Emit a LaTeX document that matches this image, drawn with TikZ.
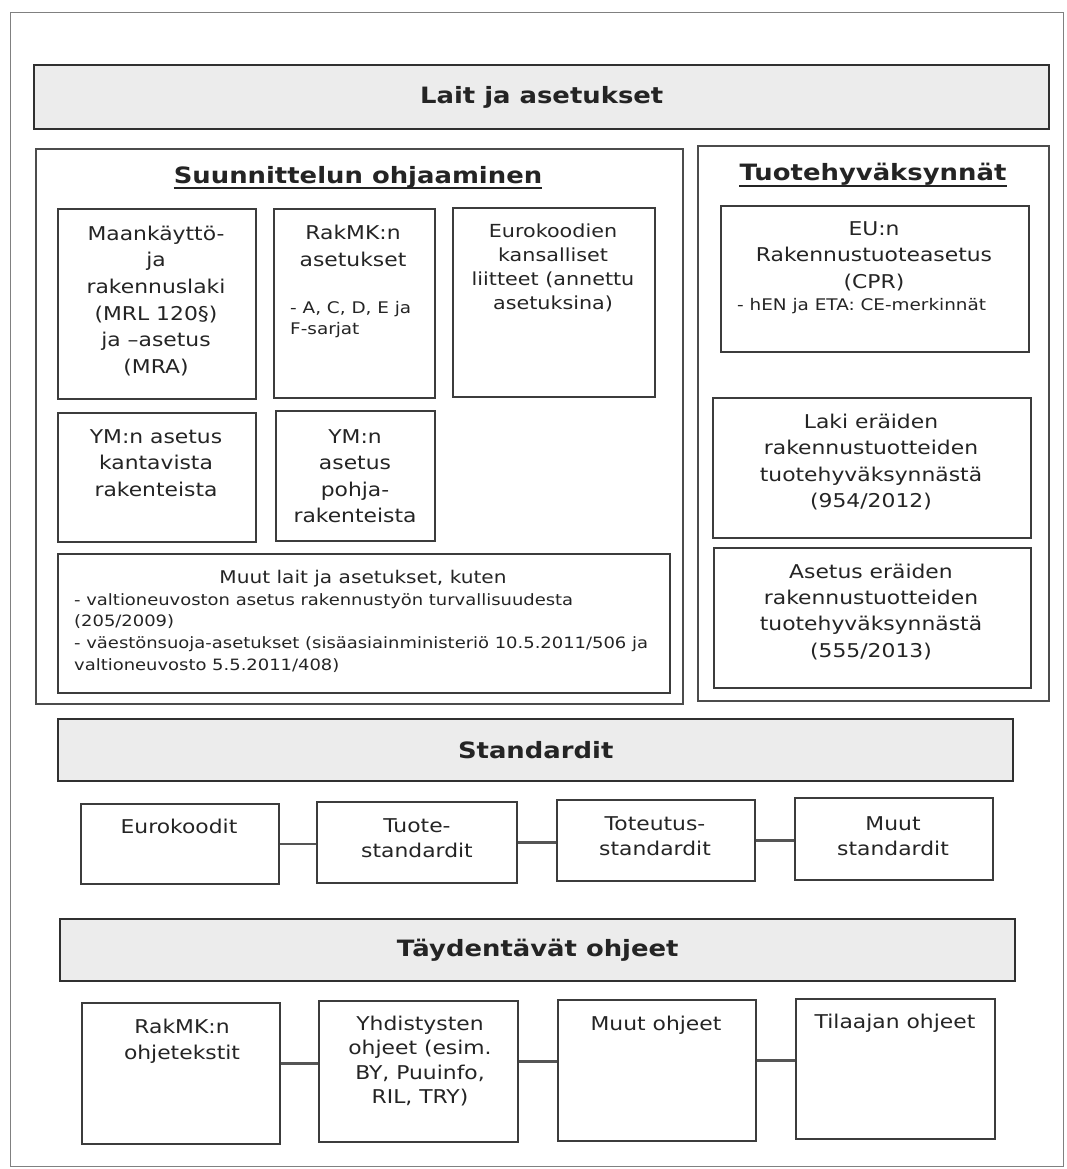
\documentclass[tikz,border=0pt]{standalone}
\usepackage{fontspec}
\setmainfont{DejaVu Sans}[FakeStretch=1.15]
\definecolor{ink}{HTML}{242424}
\definecolor{boxc}{HTML}{3C3C3C}
\definecolor{contc}{HTML}{4C4C4C}
\definecolor{barc}{HTML}{303030}
\definecolor{barfill}{HTML}{ECECEC}
\definecolor{frmc}{HTML}{808080}
\definecolor{linkc}{HTML}{555555}
\newcommand\setfs[2]{\fontsize{#1}{#2}\selectfont}
\newcommand\hdfont{\bfseries\fontsize{22.5}{27}\selectfont}
\newcommand\Tp{\rule{0pt}{20pt}}
\newcommand\BoxAt[6]{\node[#2, minimum width={#5-#3}, minimum height={#6-#4}, anchor=north west] (#1) at (#3,#4) {};}
\tikzset{
  box/.style={draw=boxc, line width=1.8pt, inner sep=0pt},
  cont/.style={draw=contc, line width=2pt, inner sep=0pt},
  bar/.style={draw=barc, line width=2.4pt, fill=barfill, inner sep=0pt, font=\hdfont, text=ink},
  frm/.style={draw=frmc, line width=1.4pt, inner sep=0pt},
  tc/.style={anchor=north, inner sep=0pt, align=center, text=ink},
  tl/.style={anchor=north west, inner sep=0pt, align=left, text=ink},
  hd/.style={anchor=base, inner sep=0pt, font=\hdfont, text=ink},
  ul/.style={draw=ink, line width=2pt},
  link/.style={draw=linkc, line width=2.6pt},
}
\begin{document}
\begin{tikzpicture}[x=1pt, y=-1pt]
\useasboundingbox (0,0) rectangle (1067,1169);
% outer frame
\BoxAt{frame}{frm}{10}{12}{1063}{1166}
% top bar
\node[bar, minimum width=1015, minimum height=64, anchor=north west] (lait) at (33,64) {Lait ja asetukset};
% containers
\BoxAt{suun}{cont}{35}{148}{682}{703}
\BoxAt{tuote}{cont}{697}{145}{1048}{700}
\node[hd] (suunH) at (358,183) {Suunnittelun ohjaaminen};
\draw[ul] ([yshift=-5pt]suunH.base west) -- ([yshift=-5pt]suunH.base east);
\node[hd] (tuoteH) at (873,181) {Tuotehyväksynnät};
\draw[ul] ([yshift=-5pt]tuoteH.base west) -- ([yshift=-5pt]tuoteH.base east);
% left panel boxes
\BoxAt{maank}{box}{57}{208}{255}{398}
\BoxAt{rakmk}{box}{273}{208}{434}{397}
\BoxAt{euro}{box}{452}{207}{654}{396}
\BoxAt{ymk}{box}{57}{412}{255}{541}
\BoxAt{ymp}{box}{275}{410}{434}{540}
\BoxAt{muut}{box}{57}{553}{669}{692}
\node[tc, font=\setfs{19}{26.6}] (maankT) at (156,220) {\Tp Maankäyttö-\\ja\\rakennuslaki\\(MRL 120§)\\ja –asetus\\(MRA)};
\node[tc, font=\setfs{19}{27}] (rakmkT) at (353,219) {\Tp RakMK:n\\asetukset};
\node[tl, font=\setfs{16}{21}] (rakmkL) at (290,293) {\Tp - A, C, D, E ja\\F-sarjat};
\node[tc, font=\setfs{18}{24}] (euroT) at (553,217) {\Tp Eurokoodien\\kansalliset\\liitteet (annettu\\asetuksina)};
\node[tc, font=\setfs{19}{26.7}] (ymkT) at (156,423) {\Tp YM:n asetus\\kantavista\\rakenteista};
\node[tc, font=\setfs{19}{26.5}] (ympT) at (355,423) {\Tp YM:n\\asetus\\pohja-\\rakenteista};
\node[tc, font=\setfs{17.5}{22}] (muutT) at (363,563) {\Tp Muut lait ja asetukset, kuten};
\node[tl, font=\setfs{15.6}{21.7}] (muutL) at (74,585) {\Tp - valtioneuvoston asetus rakennustyön turvallisuudesta\\(205/2009)\\- väestönsuoja-asetukset (sisäasiainministeriö 10.5.2011/506 ja\\valtioneuvosto 5.5.2011/408)};
% right panel boxes
\BoxAt{eu}{box}{720}{205}{1028}{351}
\BoxAt{laki}{box}{712}{397}{1030}{537}
\BoxAt{aset}{box}{713}{547}{1030}{687}
\node[tc, font=\setfs{19}{26.5}] (euT) at (874,215) {\Tp EU:n\\Rakennustuoteasetus\\(CPR)};
\node[tl, font=\setfs{16}{21}] (euL) at (737,290) {\Tp - hEN ja ETA: CE-merkinnät};
\node[tc, font=\setfs{19}{26.5}] (lakiT) at (871,408) {\Tp Laki eräiden\\rakennustuotteiden\\tuotehyväksynnästä\\(954/2012)};
\node[tc, font=\setfs{19}{26.3}] (asetT) at (871,558) {\Tp Asetus eräiden\\rakennustuotteiden\\tuotehyväksynnästä\\(555/2013)};
% standardit
\node[bar, minimum width=955, minimum height=62, anchor=north west] (std) at (57,718) {Standardit};
\BoxAt{s1}{box}{80}{803}{278}{883}
\BoxAt{s2}{box}{316}{801}{516}{882}
\BoxAt{s3}{box}{556}{799}{754}{880}
\BoxAt{s4}{box}{794}{797}{992}{879}
\node[tc, font=\setfs{19}{25}] (s1T) at (179,813) {\Tp Eurokoodit};
\node[tc, font=\setfs{19}{25}] (s2T) at (417,812) {\Tp Tuote-\\standardit};
\node[tc, font=\setfs{19}{25.5}] (s3T) at (655,810) {\Tp Toteutus-\\standardit};
\node[tc, font=\setfs{19}{25}] (s4T) at (893,810) {\Tp Muut\\standardit};
\draw[link] (s1.east) -- (s1.east -| s2.west);
\draw[link] (s2.east) -- (s2.east -| s3.west);
\draw[link] (s3.east) -- (s3.east -| s4.west);
% täydentävät ohjeet
\node[bar, minimum width=955, minimum height=62, anchor=north west] (tay) at (59,918) {Täydentävät ohjeet};
\BoxAt{o1}{box}{81}{1002}{279}{1143}
\BoxAt{o2}{box}{318}{1000}{517}{1141}
\BoxAt{o3}{box}{557}{999}{755}{1140}
\BoxAt{o4}{box}{795}{998}{994}{1138}
\node[tc, font=\setfs{19}{26}] (o1T) at (182,1013) {\Tp RakMK:n\\ohjetekstit};
\node[tc, font=\setfs{19}{24.5}] (o2T) at (420,1010) {\Tp Yhdistysten\\ohjeet (esim.\\BY, Puuinfo,\\RIL, TRY)};
\node[tc, font=\setfs{19}{25}] (o3T) at (656,1010) {\Tp Muut ohjeet};
\node[tc, font=\setfs{19}{25}] (o4T) at (895,1008) {\Tp Tilaajan ohjeet};
\draw[link] ([yshift=10pt]o1.east) -- ([yshift=10pt]o1.east -| o2.west);
\draw[link] ([yshift=10pt]o2.east) -- ([yshift=10pt]o2.east -| o3.west);
\draw[link] ([yshift=10pt]o3.east) -- ([yshift=10pt]o3.east -| o4.west);
\end{tikzpicture}
\end{document}
